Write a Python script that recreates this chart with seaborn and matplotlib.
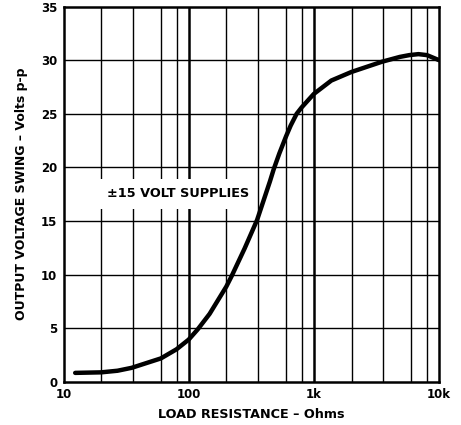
import matplotlib
matplotlib.use("Agg")
import matplotlib.pyplot as plt
import seaborn as sns
import pandas as pd
from matplotlib.ticker import FixedLocator, NullLocator, FixedFormatter

# Data
load_ohms = [12.4, 20, 27, 35, 60, 80, 100, 118, 147, 200, 220, 280, 352,
             446, 477, 530, 600, 653, 729, 800, 1000, 1380, 2000, 3500, 4860,
             5800, 6850, 8000, 10000]
swing_vpp = [0.85, 0.9, 1.05, 1.32, 2.2, 3.05, 3.95, 4.9, 6.35, 8.9, 9.85,
             12.45, 15.1, 18.7, 19.8, 21.3, 22.9, 23.9, 25.0, 25.6, 26.85,
             28.1, 28.9, 29.85, 30.3, 30.47, 30.56, 30.47, 30.0]
x_tick_values = [10, 100, 1000, 10000]
x_tick_labels = ["10", "100", "1k", "10k"]
y_tick_values = [0, 5, 10, 15, 20, 25, 30, 35]
annotation = "±15 VOLT SUPPLIES"

sns.set_style("white")
plt.rcParams["font.family"] = ["DejaVu Sans"]
plt.rcParams["font.weight"] = "bold"

df = pd.DataFrame({"R": load_ohms, "V": swing_vpp})

fig = plt.figure(figsize=(4.61, 4.25), dpi=100)
ax = fig.add_axes([63.5 / 461, 1 - 382 / 425, (439 - 63.5) / 461, (382 - 6.5) / 425])

ax.set_xscale("log")
ax.set_xlim(10, 10000)
ax.set_ylim(0, 35)

# grid lines
for dec in [10, 100, 1000]:
    for m in [2, 3.6, 6, 8]:
        ax.axvline(dec * m, color="black", lw=1.0, zorder=1)
for dec in [100, 1000]:
    ax.axvline(dec, color="black", lw=1.8, zorder=1)
for yv in y_tick_values[1:-1]:
    ax.axhline(yv, color="black", lw=1.0, zorder=1)

sns.lineplot(data=df, x="R", y="V", ax=ax, color="black", lw=3.2, zorder=3,
             solid_capstyle="round", solid_joinstyle="round")

ax.xaxis.set_major_locator(FixedLocator(x_tick_values))
ax.xaxis.set_major_formatter(FixedFormatter(x_tick_labels))
ax.xaxis.set_minor_locator(NullLocator())
ax.set_yticks(y_tick_values)
ax.tick_params(axis="both", length=0, labelsize=8.5, pad=4.5, colors="black")
for lab in ax.get_xticklabels() + ax.get_yticklabels():
    lab.set_fontweight("bold")

for s in ax.spines.values():
    s.set_visible(True)
    s.set_color("black")
    s.set_linewidth(1.8)

ax.set_xlabel("LOAD RESISTANCE – Ohms", fontsize=9.2, fontweight="bold", color="black")
ax.set_ylabel("OUTPUT VOLTAGE SWING – Volts p-p", fontsize=9.0, fontweight="bold", color="black")
ax.xaxis.set_label_coords(0.5, -0.07)
ax.yaxis.set_label_coords(-0.095, 0.5)

ax.text(0.115, 0.492, annotation, transform=ax.transAxes,
        fontsize=9.3, fontweight="bold", ha="left", va="baseline", zorder=4,
        color="black",
        bbox=dict(facecolor="white", edgecolor="none", pad=6))

fig.savefig("out.png", dpi=100)
